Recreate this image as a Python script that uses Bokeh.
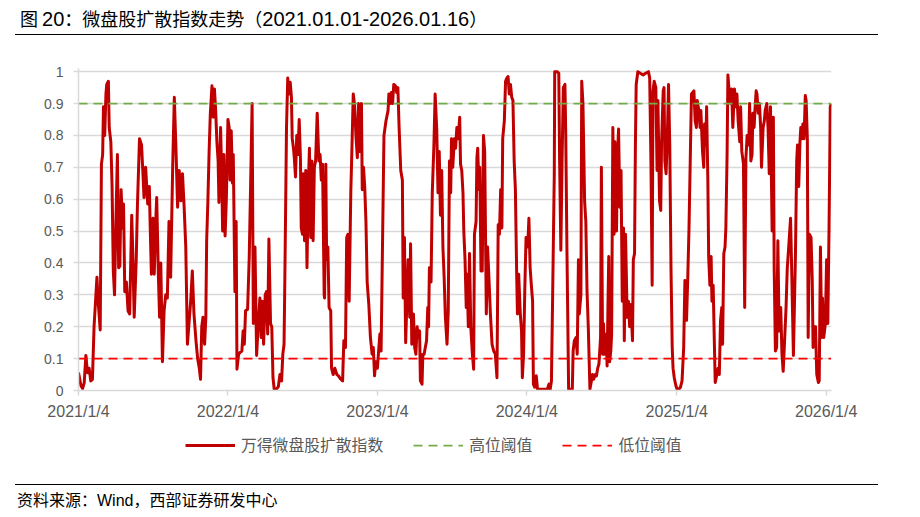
import re
import pandas as pd
from bokeh.plotting import figure
from bokeh.models import FixedTicker, Legend, LegendItem, Range1d, Div
from bokeh.layouts import column
from bokeh.embed import file_html
from bokeh.resources import INLINE

# ---------------- data (day offsets from 2021-01-04, index values) ----------------
start_date = "2021-01-04"

days_a = [
    0, 6, 10, 14, 18, 22, 26, 30, 34, 38,
    45, 48, 53, 56, 59, 61, 64, 67, 69, 73,
    75, 79, 82, 85, 88, 91, 95, 98, 101, 104,
    108, 110, 113, 117, 121, 125, 130, 133, 136, 141,
    144, 149, 154, 157, 160, 164, 169, 173, 175, 178,
    182, 185, 188, 191, 195, 198, 201, 205, 209, 213,
    217, 221, 225, 230, 234, 238, 242, 246, 250, 254,
    258, 262, 266]
vals_a = [
    0.056, 0.015, 0.006, 0.025, 0.11, 0.056, 0.07, 0.03, 0.035, 0.2,
    0.355, 0.28, 0.19, 0.71, 0.74, 0.89, 0.8, 0.93, 0.96, 0.97,
    0.825, 0.78, 0.64, 0.375, 0.3, 0.51, 0.74, 0.385, 0.39, 0.63,
    0.51, 0.585, 0.31, 0.34, 0.25, 0.24, 0.55, 0.41, 0.23, 0.41,
    0.585, 0.79, 0.77, 0.69, 0.605, 0.7, 0.585, 0.64, 0.52, 0.365,
    0.54, 0.365, 0.51, 0.605, 0.365, 0.23, 0.4, 0.09, 0.25, 0.3,
    0.29, 0.53, 0.355, 0.7, 0.92, 0.76, 0.575, 0.69, 0.595, 0.68,
    0.575, 0.45, 0.145]

days_b = [
    274, 278, 282, 287, 291, 295, 298, 301, 304, 308,
    311, 313, 316, 319, 322, 326, 329, 332, 335, 338,
    341, 343, 347, 350, 352, 355, 358, 361, 365, 368,
    370, 373, 376, 378, 382, 385, 387, 391, 395, 399,
    402, 405, 408, 413, 417, 421, 424, 427, 431, 435,
    439, 443, 446, 449, 452, 456, 459, 462, 465, 469,
    472, 475, 478, 483, 488, 492, 496, 499, 502, 504,
    508, 511, 514, 517, 520, 522, 525, 527, 530, 533,
    536, 539, 542, 544, 547, 549, 552, 555, 558, 561,
    564, 567, 570, 573, 576]
vals_b = [
    0.28, 0.375, 0.24, 0.155, 0.1, 0.07, 0.035, 0.2, 0.23, 0.145,
    0.23, 0.47, 0.595, 0.75, 0.87, 0.956, 0.857, 0.946, 0.878, 0.78,
    0.72, 0.59, 0.825, 0.66, 0.5, 0.74, 0.485, 0.595, 0.85, 0.825,
    0.66, 0.815, 0.65, 0.74, 0.31, 0.53, 0.067, 0.114, 0.12, 0.124,
    0.187, 0.145, 0.25, 0.255, 0.42, 0.69, 0.9, 0.21, 0.45, 0.11,
    0.21, 0.29, 0.166, 0.28, 0.145, 0.3, 0.31, 0.177, 0.475, 0.21,
    0.2, 0.04, 0.004, 0.004, 0.012, 0.05, 0.03, 0.114, 0.145, 0.355,
    0.825, 0.98, 0.93, 0.967, 0.92, 0.79, 0.76, 0.73, 0.67, 0.8,
    0.74, 0.85, 0.73, 0.51, 0.49, 0.68, 0.47, 0.69, 0.385, 0.63,
    0.76, 0.48, 0.72, 0.47, 0.7]

days_c = [
    579, 583, 587, 590, 593, 596, 600, 601, 604, 606,
    609, 612, 616, 618, 622, 626, 631, 635, 640, 645,
    648, 652, 655, 658, 661, 665, 668, 671, 674, 678,
    681, 684, 687, 691, 693, 696, 699, 702, 705, 709,
    713, 717, 720, 723, 726, 730, 733, 736, 739, 743,
    746, 751, 756, 758, 761, 764, 767, 770, 774, 777,
    780, 783, 787, 791, 793, 796, 799, 802, 805, 809,
    811, 814, 818, 821, 824, 827, 830, 833, 835, 839,
    841, 844, 847, 850, 853, 855, 857, 861, 864, 868,
    871, 875, 878, 881]
vals_c = [
    0.72, 0.87, 0.72, 0.74, 0.66, 0.71, 0.3, 0.29, 0.71, 0.41,
    0.45, 0.26, 0.25, 0.07, 0.05, 0.07, 0.05, 0.046, 0.036, 0.03,
    0.156, 0.135, 0.48, 0.49, 0.28, 0.62, 0.77, 0.93, 0.9, 0.79,
    0.73, 0.9, 0.75, 0.9, 0.63, 0.7, 0.64, 0.53, 0.34, 0.27,
    0.166, 0.114, 0.135, 0.046, 0.09, 0.07, 0.124, 0.177, 0.124, 0.51,
    0.8, 0.846, 0.878, 0.93, 0.9, 0.935, 0.9, 0.96, 0.956, 0.935,
    0.95, 0.825, 0.69, 0.66, 0.29, 0.48, 0.15, 0.28, 0.41, 0.23,
    0.46, 0.145, 0.24, 0.135, 0.114, 0.2, 0.166, 0.187, 0.03, 0.02,
    0.114, 0.114, 0.135, 0.156, 0.26, 0.2, 0.385, 0.34, 0.62, 0.77,
    0.93, 0.815, 0.62, 0.75]

days_d = [
    884, 887, 890, 893, 896, 900, 903, 906, 909, 911,
    914, 918, 921, 924, 927, 931, 933, 936, 939, 941,
    944, 947, 949, 952, 955, 958, 962, 965, 967, 971,
    973, 975, 978, 980, 983, 986, 989, 992, 996, 999,
    1002, 1006, 1010, 1014, 1018, 1022, 1025, 1028, 1031, 1034,
    1036, 1040, 1043, 1046, 1049, 1052, 1055, 1058, 1061, 1064,
    1067, 1070, 1072, 1075, 1079, 1082, 1084, 1087, 1090, 1093,
    1097, 1100, 1103, 1106, 1109, 1111, 1114, 1118, 1121, 1128,
    1136, 1145, 1149, 1152, 1155, 1158, 1162, 1163, 1169, 1173,
    1175, 1178, 1181, 1184, 1188]
vals_d = [
    0.55, 0.69, 0.45, 0.355, 0.23, 0.145, 0.25, 0.72, 0.62, 0.79,
    0.7, 0.79, 0.76, 0.825, 0.79, 0.857, 0.71, 0.69, 0.62, 0.5,
    0.41, 0.26, 0.365, 0.2, 0.43, 0.2, 0.114, 0.067, 0.49, 0.53,
    0.73, 0.76, 0.63, 0.7, 0.375, 0.375, 0.8, 0.75, 0.24, 0.45,
    0.365, 0.24, 0.145, 0.124, 0.114, 0.04, 0.52, 0.49, 0.63, 0.51,
    0.79, 0.846, 0.97, 0.98, 0.985, 0.93, 0.96, 0.92, 0.91, 0.72,
    0.63, 0.375, 0.24, 0.365, 0.24, 0.187, 0.04, 0.114, 0.32, 0.48,
    0.45, 0.54, 0.385, 0.33, 0.28, 0.02, 0.01, 0.046, 0.004, 0.004,
    0.004, 0.004, 0.02, 0.004, 0.03, 0.3, 0.68, 1.0, 1.0, 0.995,
    0.72, 0.44, 0.72, 0.95, 0.96]

days_e = [
    1190, 1193, 1197, 1202, 1206, 1208, 1211, 1215, 1218, 1221,
    1223, 1227, 1229, 1232, 1236, 1239, 1242, 1245, 1249, 1252,
    1255, 1258, 1262, 1265, 1268, 1271, 1275, 1277, 1280, 1282,
    1285, 1289, 1291, 1293, 1295, 1297, 1300, 1302, 1305, 1308,
    1310, 1314, 1316, 1319, 1322, 1325, 1328, 1331, 1333, 1336,
    1340, 1343, 1346, 1349, 1353, 1355, 1358, 1360, 1362, 1366,
    1372, 1379, 1385, 1392, 1395, 1398, 1401, 1403, 1406, 1410,
    1413, 1415, 1419, 1422, 1424, 1428, 1430, 1432, 1435, 1438,
    1441, 1444, 1447, 1450, 1452, 1455, 1459, 1462, 1466, 1470,
    1474, 1478, 1481, 1485, 1488, 1491]
vals_e = [
    0.8, 0.43, 0.004, 0.004, 0.004, 0.124, 0.156, 0.166, 0.114, 0.41,
    0.24, 0.3, 0.97, 0.9, 0.595, 0.53, 0.31, 0.2, 0.004, 0.025,
    0.05, 0.035, 0.05, 0.046, 0.07, 0.083, 0.166, 0.7, 0.114, 0.21,
    0.114, 0.177, 0.077, 0.26, 0.42, 0.09, 0.124, 0.177, 0.825, 0.49,
    0.78, 0.5, 0.73, 0.82, 0.575, 0.69, 0.28, 0.51, 0.156, 0.49,
    0.23, 0.28, 0.2, 0.27, 0.156, 0.41, 0.43, 0.76, 0.96, 1.0,
    0.995, 0.99, 0.995, 1.0, 0.98, 0.72, 0.33, 0.94, 0.97, 0.95,
    0.69, 0.91, 0.595, 0.565, 0.78, 0.94, 0.95, 0.72, 0.68, 0.79,
    0.96, 0.77, 0.385, 0.135, 0.07, 0.04, 0.015, 0.004, 0.004, 0.01,
    0.03, 0.135, 0.345, 0.22, 0.355, 0.51]

days_f = [
    1494, 1497, 1500, 1503, 1506, 1509, 1511, 1515, 1518, 1520,
    1524, 1527, 1529, 1532, 1534, 1537, 1539, 1542, 1545, 1547,
    1550, 1553, 1555, 1559, 1562, 1565, 1568, 1571, 1573, 1576,
    1579, 1581, 1584, 1586, 1589, 1593, 1595, 1598, 1602, 1605,
    1608, 1611, 1615, 1617, 1620, 1624, 1627, 1630, 1633, 1637,
    1639, 1642, 1645, 1647, 1650, 1652, 1655, 1657, 1660, 1663,
    1666, 1668, 1672, 1675, 1677, 1681, 1684, 1687, 1690, 1692,
    1694, 1697, 1699, 1702, 1705, 1708, 1711, 1715, 1718, 1721,
    1724, 1728, 1731, 1734, 1739, 1742, 1746, 1749, 1751, 1754,
    1756, 1759, 1762, 1764, 1767, 1769, 1772, 1775, 1777, 1780,
    1782, 1785, 1789, 1792, 1794, 1798, 1800, 1803, 1807, 1809,
    1812, 1815, 1817, 1820, 1824, 1827, 1830, 1833, 1836, 1838]
vals_f = [
    0.72, 0.93, 0.935, 0.94, 0.846, 0.825, 0.91, 0.878, 0.825, 0.878,
    0.75, 0.7, 0.836, 0.77, 0.89, 0.66, 0.42, 0.33, 0.42, 0.28,
    0.33, 0.145, 0.025, 0.05, 0.07, 0.05, 0.22, 0.26, 0.145, 0.43,
    0.45, 0.51, 0.74, 0.99, 0.94, 0.9, 0.946, 0.825, 0.946, 0.89,
    0.93, 0.846, 0.78, 0.89, 0.75, 0.71, 0.26, 0.73, 0.8, 0.77,
    0.9, 0.72, 0.74, 0.87, 0.825, 0.878, 0.94, 0.93, 0.87, 0.9,
    0.825, 0.7, 0.825, 0.846, 0.878, 0.9, 0.825, 0.68, 0.89, 0.69,
    0.5, 0.857, 0.385, 0.124, 0.135, 0.47, 0.187, 0.26, 0.114, 0.06,
    0.145, 0.26, 0.385, 0.44, 0.54, 0.365, 0.11, 0.3, 0.43, 0.72,
    0.77, 0.64, 0.78, 0.825, 0.79, 0.836, 0.79, 0.925, 0.91, 0.79,
    0.166, 0.49, 0.48, 0.345, 0.135, 0.2, 0.2, 0.05, 0.025, 0.03,
    0.45, 0.166, 0.29, 0.166, 0.21, 0.41, 0.21, 0.51, 0.89, 0.9]

end_date = "2026-01-16"
high_threshold = 0.9
low_threshold = 0.1

series_name = "万得微盘股扩散指数"
high_name = "高位阈值"
low_name = "低位阈值"

y_ticks = [0, 0.1, 0.2, 0.3, 0.4, 0.5, 0.6, 0.7, 0.8, 0.9, 1]
y_labels = ["0", "0.1", "0.2", "0.3", "0.4", "0.5", "0.6", "0.7", "0.8", "0.9", "1"]
x_tick_dates = ["2021-01-04", "2022-01-04", "2023-01-04", "2024-01-04", "2025-01-04", "2026-01-04"]
x_tick_labels = ["2021/1/4", "2022/1/4", "2023/1/4", "2024/1/4", "2025/1/4", "2026/1/4"]

title_text = "图 20：微盘股扩散指数走势（2021.01.01-2026.01.16）"
source_text = "资料来源：Wind，西部证券研发中心"

# ---------------- build ----------------
start = pd.Timestamp(start_date)
all_days, all_vals = [], []
for ds, vs in [(days_a, vals_a), (days_b, vals_b), (days_c, vals_c),
               (days_d, vals_d), (days_e, vals_e), (days_f, vals_f)]:
    for d, v in zip(ds, vs):
        all_days.append(d)
        all_vals.append(v)
dates = [start + pd.Timedelta(days=int(d)) for d in all_days]
end = pd.Timestamp(end_date)

FONT = "Liberation Sans, Noto Sans CJK SC"
CJK = "Noto Sans CJK SC, Liberation Sans"
GRID = "#D9D9D9"
LABEL = "#595959"
W = 880
LB, RB = 78, 49   # frame borders shared by chart and legend strip

# Latin runs of the title slightly larger, as in the original (Arial next to Song)
title_html = re.sub(r"([0-9][0-9.\-]*)",
                    '<span style="font-family:Liberation Sans, Arial, sans-serif; font-size:20px;">\\1</span>',
                    title_text)

header = Div(
    text=('<div style="margin:0; padding:7px 0 0 20px; font-family:Noto Sans CJK SC, sans-serif;'
          ' font-size:18px; line-height:22px; color:#000; white-space:nowrap;">' + title_html + '</div>'
          '<div style="margin:4px 0 0 15px; width:863px; height:0; border-top:1px solid #000;"></div>'),
    width=W, height=48, margin=0)

# ---- main chart ----
p = figure(width=W, height=380, x_axis_type="datetime",
           x_range=Range1d(start, start + pd.Timedelta(days=1839)),
           y_range=Range1d(0, 1.01),
           output_backend="svg", toolbar_location=None,
           min_border_left=LB, min_border_right=RB, min_border_top=20, min_border_bottom=38)
p.margin = 0
p.outline_line_color = None
p.xgrid.visible = False
p.ygrid.ticker = FixedTicker(ticks=y_ticks)
p.ygrid.grid_line_color = GRID
p.ygrid.grid_line_width = 1.5

p.yaxis.ticker = FixedTicker(ticks=y_ticks)
p.yaxis.major_label_overrides = dict(zip(y_ticks, y_labels))
p.yaxis.axis_line_color = GRID
p.yaxis.axis_line_width = 1.5
p.yaxis.major_tick_line_color = GRID
p.yaxis.major_tick_line_width = 1.5
p.yaxis.major_tick_out = 5
p.yaxis.major_tick_in = 0
p.yaxis.minor_tick_line_color = None
p.yaxis.major_label_standoff = 10
p.yaxis.major_label_text_font = FONT
p.yaxis.major_label_text_font_size = "14px"
p.yaxis.major_label_text_color = LABEL

x_tick_ms = [int(pd.Timestamp(d).value // 10**6) for d in x_tick_dates]
p.xaxis.ticker = FixedTicker(ticks=x_tick_ms)
p.xaxis.major_label_overrides = dict(zip(x_tick_ms, x_tick_labels))
p.xaxis.axis_line_color = GRID
p.xaxis.axis_line_width = 1.5
p.xaxis.major_tick_line_color = GRID
p.xaxis.major_tick_line_width = 1.5
p.xaxis.major_tick_out = 5
p.xaxis.major_tick_in = 0
p.xaxis.minor_tick_line_color = None
p.xaxis.major_label_standoff = 7
p.xaxis.major_label_text_font = FONT
p.xaxis.major_label_text_font_size = "16px"
p.xaxis.major_label_text_color = LABEL

MAIN_STYLE = dict(line_color="#C00000", line_width=3, line_join="round")
HIGH_STYLE = dict(line_color="#70AD47", line_width=1.75, line_dash="9 6")
LOW_STYLE = dict(line_color="#FF0000", line_width=1.75, line_dash="9 6")

p.line(dates, all_vals, **MAIN_STYLE)
p.line([dates[0], end], [high_threshold, high_threshold], **HIGH_STYLE)
p.line([dates[0], end], [low_threshold, low_threshold], **LOW_STYLE)

# ---- legend strip (legend keys only; NaN data, nothing plotted) ----
NAN = float("nan")
lg = figure(width=W, height=50, x_range=Range1d(0, 1), y_range=Range1d(0, 1),
            output_backend="svg", toolbar_location=None,
            min_border_left=LB, min_border_right=RB, min_border_top=0, min_border_bottom=0,
            x_axis_location=None, y_axis_location=None)
lg.margin = 0
lg.grid.visible = False
lg.outline_line_color = None
k_main = lg.line(x=[NAN], y=[NAN], **MAIN_STYLE)
k_high = lg.line(x=[NAN], y=[NAN], **HIGH_STYLE)
k_low = lg.line(x=[NAN], y=[NAN], **LOW_STYLE)
legend = Legend(items=[LegendItem(label=series_name, renderers=[k_main], index=0),
                       LegendItem(label=high_name, renderers=[k_high], index=0),
                       LegendItem(label=low_name, renderers=[k_low], index=0)],
                orientation="horizontal", location=(107, 22),
                border_line_color=None, background_fill_alpha=0,
                label_text_font=CJK, label_text_font_size="15.8px", label_text_color=LABEL,
                glyph_width=50, glyph_height=20, label_standoff=6, spacing=30,
                margin=0, padding=5)
lg.add_layout(legend, "center")

footer = Div(
    text=('<div style="margin:6px 0 0 15px; width:863px; height:0; border-top:1px solid #000;"></div>'
          '<div style="margin:6px 0 0 17px; font-family:Liberation Sans, Noto Sans CJK SC, sans-serif;'
          ' font-size:16px; line-height:20px; color:#000; white-space:nowrap;">' + source_text + '</div>'),
    width=W, height=39, margin=0)

layout = column(header, p, lg, footer, spacing=0)
open("out.html", "w").write(file_html(layout, INLINE))
